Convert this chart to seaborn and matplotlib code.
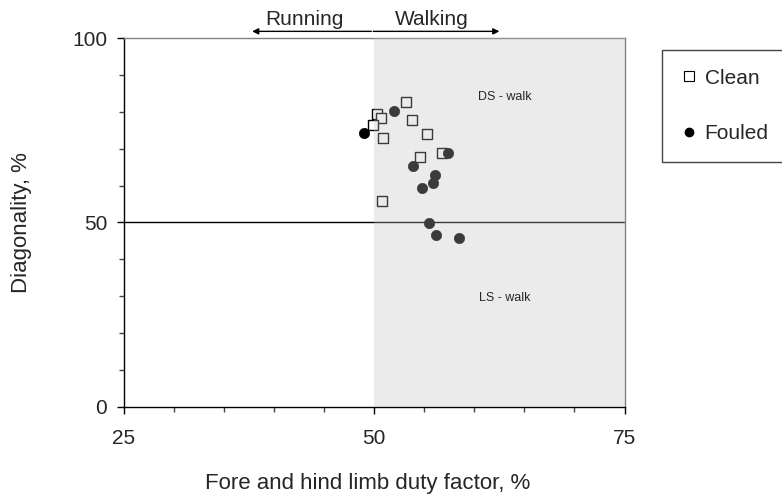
import matplotlib
matplotlib.use("Agg")
import matplotlib.pyplot as plt
import seaborn as sns
import pandas as pd
from matplotlib.patches import Rectangle
from matplotlib.lines import Line2D
from matplotlib.ticker import MultipleLocator

# ---- data ----
clean_x = [53.2, 50.3, 50.7, 49.9, 53.8, 50.9, 55.3, 54.6, 56.8, 50.8]
clean_y = [82.7, 79.3, 78.4, 76.3, 77.7, 73.0, 74.1, 67.8, 68.9, 55.9]
fouled_x = [52.0, 49.0, 57.4, 53.9, 56.1, 55.9, 54.8, 55.5, 56.2, 58.5]
fouled_y = [80.3, 74.2, 68.9, 65.2, 63.0, 60.6, 59.3, 49.8, 46.5, 45.7]
groups = ["Clean", "Fouled"]
x_ticks = [25, 50, 75]
y_ticks = [0, 50, 100]
x_label = "Fore and hind limb duty factor, %"
y_label = "Diagonality, %"
region_labels = ["DS - walk", "LS - walk"]
gait_labels = ["Running", "Walking"]

df = pd.DataFrame({
    "x": clean_x + fouled_x,
    "y": clean_y + fouled_y,
    "group": [groups[0]] * len(clean_x) + [groups[1]] * len(fouled_x),
})

sns.set_style("ticks")
plt.rcParams["font.family"] = ["Liberation Sans", "DejaVu Sans"]

fig = plt.figure(figsize=(7.82, 4.94), dpi=100)
ax = fig.add_axes([124 / 782, 1 - 407 / 494, 500.5 / 782, 369 / 494])

# horizontal line at 50
ax.axhline(50, color="black", lw=1.0, zorder=1)

sns.scatterplot(data=df[df.group == "Clean"], x="x", y="y", marker="s", s=48,
                facecolor="white", edgecolor="black", linewidth=1.0, ax=ax,
                zorder=3, legend=False)
sns.scatterplot(data=df[df.group == "Fouled"], x="x", y="y", marker="o", s=55,
                color="black", edgecolor="black", linewidth=0.5, ax=ax,
                zorder=3, legend=False)

# shaded walking region overlay
ax.add_patch(Rectangle((50, 0), 25, 100, facecolor=(0.75, 0.75, 0.75), alpha=0.31,
                       edgecolor="none", zorder=4))

ax.set_xlim(25, 75)
ax.set_ylim(0, 100)
ax.set_xticks(x_ticks)
ax.set_yticks(y_ticks)
ax.xaxis.set_minor_locator(MultipleLocator(5))
ax.yaxis.set_minor_locator(MultipleLocator(10))
ax.tick_params(axis="both", which="major", length=5, width=1, color="black",
               labelsize=15)
ax.tick_params(axis="both", which="minor", length=3.5, width=1, color="#444444")
ax.tick_params(axis="x", which="major", pad=11)
ax.tick_params(axis="y", which="major", pad=7)

for side in ["left", "bottom"]:
    ax.spines[side].set_color("black")
    ax.spines[side].set_linewidth(1.0)
for side in ["top", "right"]:
    ax.spines[side].set_visible(True)
    ax.spines[side].set_color("#808080")
    ax.spines[side].set_linewidth(1.0)

ax.set_xlabel(x_label, fontsize=16)
ax.set_ylabel(y_label, fontsize=16)
ax.xaxis.label.set_va("center")
ax.yaxis.label.set_va("center")
ax.xaxis.set_label_coords(0.486, -0.206)
ax.yaxis.set_label_coords(-0.204, 0.5)

ax.text(63.0, 84.0, region_labels[0], fontsize=9, ha="center", va="center", zorder=5)
ax.text(63.0, 29.5, region_labels[1], fontsize=9, ha="center", va="center", zorder=5)

# gait arrows above plot
arrow_kw = dict(arrowstyle="-|>", color="black", lw=1.0, mutation_scale=9,
                shrinkA=0, shrinkB=0)
ax.annotate("", xy=(37.8, 101.8), xytext=(49.7, 101.8), arrowprops=arrow_kw,
            annotation_clip=False)
ax.annotate("", xy=(62.5, 101.8), xytext=(49.9, 101.8), arrowprops=arrow_kw,
            annotation_clip=False)
ax.text(43.0, 102.4, gait_labels[0], fontsize=15, ha="center", va="bottom",
        clip_on=False)
ax.text(55.7, 102.4, gait_labels[1], fontsize=15, ha="center", va="bottom",
        clip_on=False)

handles = [
    Line2D([], [], marker="s", linestyle="none", markersize=6.5,
           markerfacecolor="white", markeredgecolor="black", markeredgewidth=0.8,
           label=groups[0]),
    Line2D([], [], marker="o", linestyle="none", markersize=6,
           markerfacecolor="black", markeredgecolor="black", label=groups[1]),
]
leg = fig.legend(handles=handles, loc="upper left",
                 bbox_to_anchor=(662 / 782, 1 - 50 / 494), fontsize=15,
                 frameon=True, fancybox=False, shadow=False, framealpha=1,
                 edgecolor="#444444", borderpad=0.9, labelspacing=1.75,
                 handlelength=0.8, handletextpad=0.35, borderaxespad=0)
leg.get_frame().set_linewidth(1.0)

fig.savefig("out.png", dpi=100)
